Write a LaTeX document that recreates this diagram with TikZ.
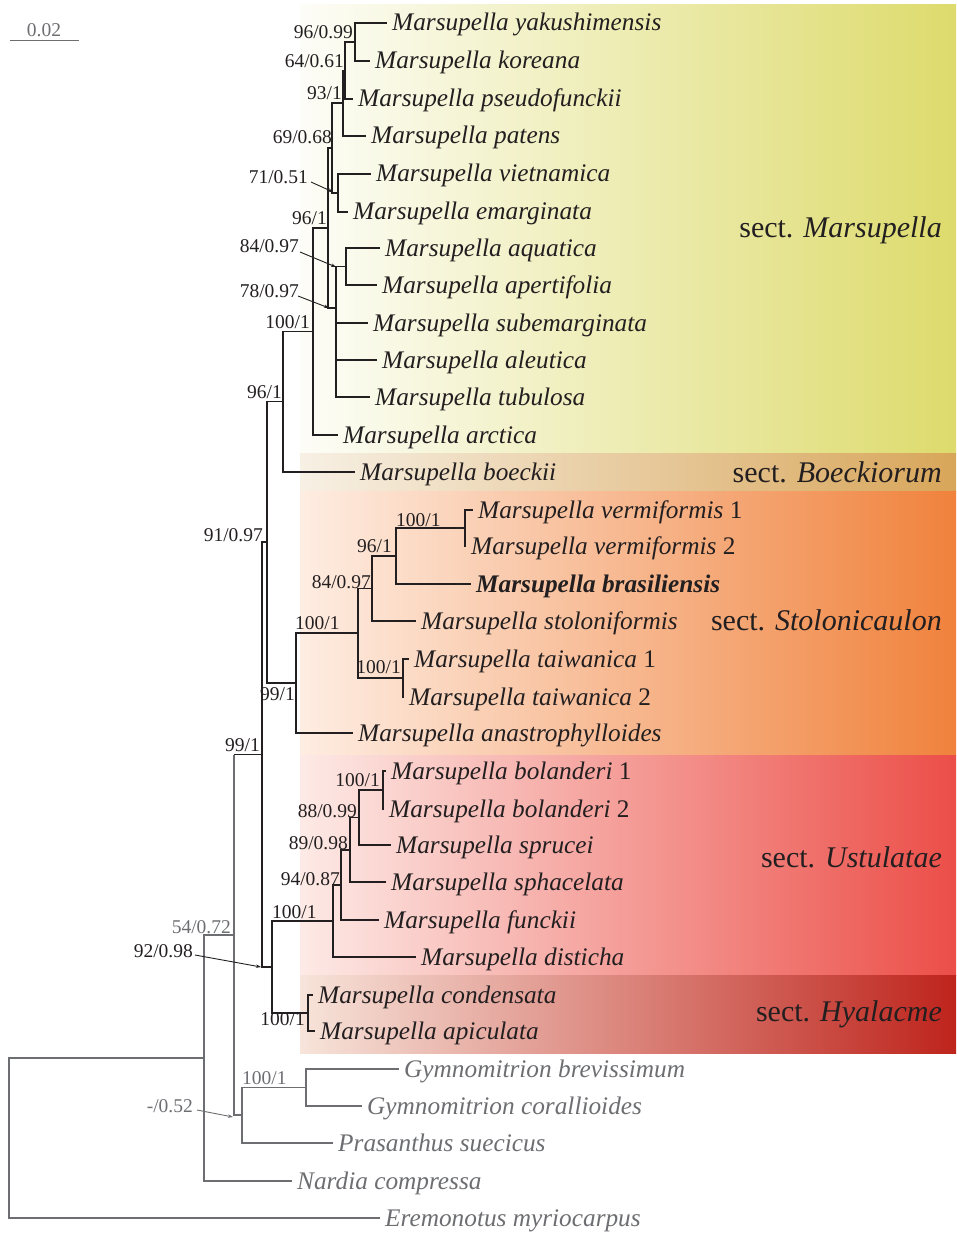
\documentclass[tikz,border=0pt]{standalone}
\usepackage{fontspec}
\setmainfont{Liberation Serif}
\usetikzlibrary{arrows.meta,calc}
\definecolor{ink}{HTML}{231F20}
\definecolor{gry}{HTML}{6D6E71}
\definecolor{marR}{HTML}{DDDB6C}
\definecolor{marL}{HTML}{FDFDF8}
\definecolor{boeR}{HTML}{D8A65A}
\definecolor{boeL}{HTML}{F7F0E4}
\definecolor{stoR}{HTML}{F0823C}
\definecolor{stoL}{HTML}{FEEDE2}
\definecolor{ustR}{HTML}{EC4E48}
\definecolor{ustL}{HTML}{FDEAE6}
\definecolor{hyaR}{HTML}{BE241C}
\definecolor{hyaL}{HTML}{F7E4DA}
\begin{document}
\begin{tikzpicture}[x=1pt,y=-1pt,
  br/.style={draw=ink, line width=1.2pt},
  gbr/.style={draw=gry, line width=1.2pt},
  tx/.style={anchor=base west, inner sep=0pt, font=\fontsize{25.3}{27}\selectfont\itshape, text=ink},
  gtx/.style={tx, text=gry},
  sup/.style={anchor=base east, inner sep=0pt, font=\fontsize{19.5}{21}\selectfont, text=ink},
  supw/.style={sup, anchor=base west},
  gsup/.style={sup, text=gry},
  gsupw/.style={supw, text=gry},
  sectlab/.style={anchor=base east, inner sep=0pt, font=\fontsize{30}{32}\selectfont, text=ink},
  arr/.style={-{Stealth[length=5pt,width=3.5pt]}, line width=0.9pt, draw=ink},
  garr/.style={arr, draw=gry}]
\useasboundingbox (0,0) rectangle (956,1233);
% colour bands
\shade[left color=marL, right color=marR] (300,5) rectangle (956,453);
\shade[left color=boeL, right color=boeR] (300,453) rectangle (956,491);
\shade[left color=stoL, right color=stoR] (300,491) rectangle (956,755);
\shade[left color=ustL, right color=ustR] (300,755) rectangle (956,975);
\shade[left color=hyaL, right color=hyaR] (300,975) rectangle (956,1053);
% section labels
\node[sectlab] (SM) at (942,237) {sect. \textit{Marsupella}};
\node[sectlab] (SB) at (942,482) {sect. \textit{Boeckiorum}};
\node[sectlab] (SS) at (942,630) {sect. \textit{Stolonicaulon}};
\node[sectlab] (SU) at (942,867) {sect. \textit{Ustulatae}};
\node[sectlab] (SH) at (942,1021) {sect. \textit{Hyalacme}};
% scale bar
\coordinate (sb1) at (10,41);
\coordinate (sb2) at (79,41);
\draw[gbr, line width=1pt] (sb1) -- (sb2);
\node[gsup, anchor=base] (SBL) at (44,37) {0.02};
% tips
\coordinate (yak) at (387,23);
\coordinate (kor) at (370,61);
\coordinate (pse) at (353,99);
\coordinate (pat) at (366,136);
\coordinate (vie) at (371,174);
\coordinate (ema) at (348,212);
\coordinate (aqu) at (380,248);
\coordinate (ape) at (377,285);
\coordinate (sub) at (368,323);
\coordinate (ale) at (377,360);
\coordinate (tub) at (370,397);
\coordinate (arc) at (338,435);
\coordinate (boe) at (355,472);
\coordinate (ver1) at (473,510);
\coordinate (ver2) at (466,546);
\coordinate (bra) at (471,584);
\coordinate (sto) at (416,621);
\coordinate (tai1) at (409,659);
\coordinate (tai2) at (404,697);
\coordinate (ana) at (353,733);
\coordinate (bol1) at (386,771);
\coordinate (bol2) at (384,809);
\coordinate (spr) at (391,845);
\coordinate (sph) at (386,882);
\coordinate (fun) at (379,920);
\coordinate (dis) at (416,957);
\coordinate (con) at (313,995);
\coordinate (api) at (315,1031);
\coordinate (gbre) at (399,1069);
\coordinate (gcor) at (362,1106);
\coordinate (pra) at (333,1143);
\coordinate (nar) at (292,1181);
\coordinate (ere) at (380,1218);
% tip labels
\node[tx] (Lyak) at ($(yak)+(5,8)$) {Marsupella yakushimensis};
\node[tx] (Lkor) at ($(kor)+(5,8)$) {Marsupella koreana};
\node[tx] (Lpse) at ($(pse)+(5,8)$) {Marsupella pseudofunckii};
\node[tx] (Lpat) at ($(pat)+(5,8)$) {Marsupella patens};
\node[tx] (Lvie) at ($(vie)+(5,8)$) {Marsupella vietnamica};
\node[tx] (Lema) at ($(ema)+(5,8)$) {Marsupella emarginata};
\node[tx] (Laqu) at ($(aqu)+(5,8)$) {Marsupella aquatica};
\node[tx] (Lape) at ($(ape)+(5,8)$) {Marsupella apertifolia};
\node[tx] (Lsub) at ($(sub)+(5,8)$) {Marsupella subemarginata};
\node[tx] (Lale) at ($(ale)+(5,8)$) {Marsupella aleutica};
\node[tx] (Ltub) at ($(tub)+(5,8)$) {Marsupella tubulosa};
\node[tx] (Larc) at ($(arc)+(5,8)$) {Marsupella arctica};
\node[tx] (Lboe) at ($(boe)+(5,8)$) {Marsupella boeckii};
\node[tx] (Lver1) at ($(ver1)+(5,8)$) {Marsupella vermiformis \textup{1}};
\node[tx] (Lver2) at ($(ver2)+(5,8)$) {Marsupella vermiformis \textup{2}};
\node[tx, font=\fontsize{25.3}{27}\selectfont\bfseries\itshape] (Lbra) at ($(bra)+(5,8)$) {Marsupella brasiliensis};
\node[tx] (Lsto) at ($(sto)+(5,8)$) {Marsupella stoloniformis};
\node[tx] (Ltai1) at ($(tai1)+(5,8)$) {Marsupella taiwanica \textup{1}};
\node[tx] (Ltai2) at ($(tai2)+(5,8)$) {Marsupella taiwanica \textup{2}};
\node[tx] (Lana) at ($(ana)+(5,8)$) {Marsupella anastrophylloides};
\node[tx] (Lbol1) at ($(bol1)+(5,8)$) {Marsupella bolanderi \textup{1}};
\node[tx] (Lbol2) at ($(bol2)+(5,8)$) {Marsupella bolanderi \textup{2}};
\node[tx] (Lspr) at ($(spr)+(5,8)$) {Marsupella sprucei};
\node[tx] (Lsph) at ($(sph)+(5,8)$) {Marsupella sphacelata};
\node[tx] (Lfun) at ($(fun)+(5,8)$) {Marsupella funckii};
\node[tx] (Ldis) at ($(dis)+(5,8)$) {Marsupella disticha};
\node[tx] (Lcon) at ($(con)+(5,8)$) {Marsupella condensata};
\node[tx] (Lapi) at ($(api)+(5,8)$) {Marsupella apiculata};
\node[gtx] (Lgbre) at ($(gbre)+(5,8)$) {Gymnomitrion brevissimum};
\node[gtx] (Lgcor) at ($(gcor)+(5,8)$) {Gymnomitrion corallioides};
\node[gtx] (Lpra) at ($(pra)+(5,8)$) {Prasanthus suecicus};
\node[gtx] (Lnar) at ($(nar)+(5,8)$) {Nardia compressa};
\node[gtx] (Lere) at ($(ere)+(5,8)$) {Eremonotus myriocarpus};
% internal nodes
\coordinate (a1) at (355,42);
\coordinate (a2) at (345,70.5);
\coordinate (a3) at (343,103);
\coordinate (a4) at (338,193);
\coordinate (a5) at (332,148);
\coordinate (a6) at (346,266.5);
\coordinate (a7) at (336,308);
\coordinate (a8) at (328,228);
\coordinate (a9) at (313,331.5);
\coordinate (a10) at (283,401.75);
\coordinate (s1) at (465,528);
\coordinate (s2) at (396,556);
\coordinate (s3) at (372,588.5);
\coordinate (s4) at (403,678);
\coordinate (s5) at (358,633);
\coordinate (s6) at (296,683);
\coordinate (b1) at (267,542);
\coordinate (u1) at (383,790);
\coordinate (u2) at (359,817.5);
\coordinate (u3) at (350,850);
\coordinate (u4) at (341,885);
\coordinate (u5) at (333,921);
\coordinate (h1) at (308,1013);
\coordinate (b2) at (272,967);
\coordinate (b3) at (262,754.5);
\coordinate (g1) at (306,1087.5);
\coordinate (g2) at (242,1115);
\coordinate (o1) at (234,935);
\coordinate (o2) at (204,1058);
\coordinate (root) at (9,1138);
% branches (ingroup)
\draw[br] (a1) |- (yak);
\draw[br] (a1) |- (kor);
\draw[br] (a2) |- (a1);
\draw[br] (a2) |- (pse);
\draw[br] (a3) |- (a2);
\draw[br] (a3) |- (pat);
\draw[br] (a4) |- (vie);
\draw[br] (a4) |- (ema);
\draw[br] (a5) |- (a3);
\draw[br] (a5) |- (a4);
\draw[br] (a6) |- (aqu);
\draw[br] (a6) |- (ape);
\draw[br] (a7) |- (a6);
\draw[br] (a7) |- (sub);
\draw[br] (a7) |- (ale);
\draw[br] (a7) |- (tub);
\draw[br] (a8) |- (a5);
\draw[br] (a8) |- (a7);
\draw[br] (a9) |- (a8);
\draw[br] (a9) |- (arc);
\draw[br] (a10) |- (a9);
\draw[br] (a10) |- (boe);
\draw[br] (s1) |- (ver1);
\draw[br] (s1) |- (ver2);
\draw[br] (s2) |- (s1);
\draw[br] (s2) |- (bra);
\draw[br] (s3) |- (s2);
\draw[br] (s3) |- (sto);
\draw[br] (s4) |- (tai1);
\draw[br] (s4) |- (tai2);
\draw[br] (s5) |- (s3);
\draw[br] (s5) |- (s4);
\draw[br] (s6) |- (s5);
\draw[br] (s6) |- (ana);
\draw[br] (b1) |- (a10);
\draw[br] (b1) |- (s6);
\draw[br] (u1) |- (bol1);
\draw[br] (u1) |- (bol2);
\draw[br] (u2) |- (u1);
\draw[br] (u2) |- (spr);
\draw[br] (u3) |- (u2);
\draw[br] (u3) |- (sph);
\draw[br] (u4) |- (u3);
\draw[br] (u4) |- (fun);
\draw[br] (u5) |- (u4);
\draw[br] (u5) |- (dis);
\draw[br] (h1) |- (con);
\draw[br] (h1) |- (api);
\draw[br] (b2) |- (u5);
\draw[br] (b2) |- (h1);
\draw[br] (b3) |- (b1);
\draw[br] (b3) |- (b2);
% branches (outgroup)
\draw[br] (o1 |- b3) -- (b3);
\draw[gbr] (o1) -- (o1 |- b3);
\draw[gbr] (g1) |- (gbre);
\draw[gbr] (g1) |- (gcor);
\draw[gbr] (g2) |- (g1);
\draw[gbr] (g2) |- (pra);
\draw[gbr] (o1) |- (g2);
\draw[gbr] (o2) |- (o1);
\draw[gbr] (o2) |- (nar);
\draw[gbr] (root) |- (o2);
\draw[gbr] (root) |- (ere);
% support values
\node[sup] (La1) at (353,39) {96/0.99};
\node[sup] (La2) at (344,68) {64/0.61};
\node[sup] (La3) at (342,100) {93/1};
\node[sup] (La5) at (332,144) {69/0.68};
\node[sup] (La4) at (308,184) {71/0.51};
\node[sup] (La8) at (327,225) {96/1};
\node[sup] (La6) at (299,253) {84/0.97};
\node[sup] (La7) at (299,297) {78/0.97};
\node[sup] (La9) at (310,328) {100/1};
\node[sup] (La10) at (282,398) {96/1};
\node[sup] (Lb1) at (263,541) {91/0.97};
\node[supw] (Ls1) at (396,526) {100/1};
\node[sup] (Ls2) at (392,552) {96/1};
\node[sup] (Ls3) at (371,588) {84/0.97};
\node[supw] (Ls5) at (295,629) {100/1};
\node[sup] (Ls4) at (401,673) {100/1};
\node[sup] (Ls6) at (295,700) {99/1};
\node[sup] (Lb3) at (260,751) {99/1};
\node[sup] (Lu1) at (380,786) {100/1};
\node[sup] (Lu2) at (357,817) {88/0.99};
\node[sup] (Lu3) at (348,849) {89/0.98};
\node[sup] (Lu4) at (340,885) {94/0.87};
\node[supw] (Lu5) at (272,918) {100/1};
\node[gsup] (Lo1) at (231,933) {54/0.72};
\node[sup] (Lb2) at (193,957) {92/0.98};
\node[sup] (Lh1) at (305,1025) {100/1};
\node[gsupw] (Lg1) at (242,1084) {100/1};
\node[gsup] (Lg2) at (193,1112) {-/0.52};
% pointer arrows
\coordinate (p4) at (333,192);
\coordinate (p6) at (336,267);
\coordinate (p7) at (329,308);
\coordinate (pb2) at (261,967);
\coordinate (pg2) at (233,1117);
\draw[arr] ($(La4.base east)+(3,-2)$) -- (p4);
\draw[arr] ($(La6.base east)+(1,-1)$) -- (p6);
\draw[arr] ($(La7.base east)+(-1,-1)$) -- (p7);
\draw[arr] ($(Lb2.base east)+(2,-2)$) -- (pb2);
\draw[garr] ($(Lg2.base east)+(4,-2)$) -- (pg2);
\end{tikzpicture}
\end{document}
